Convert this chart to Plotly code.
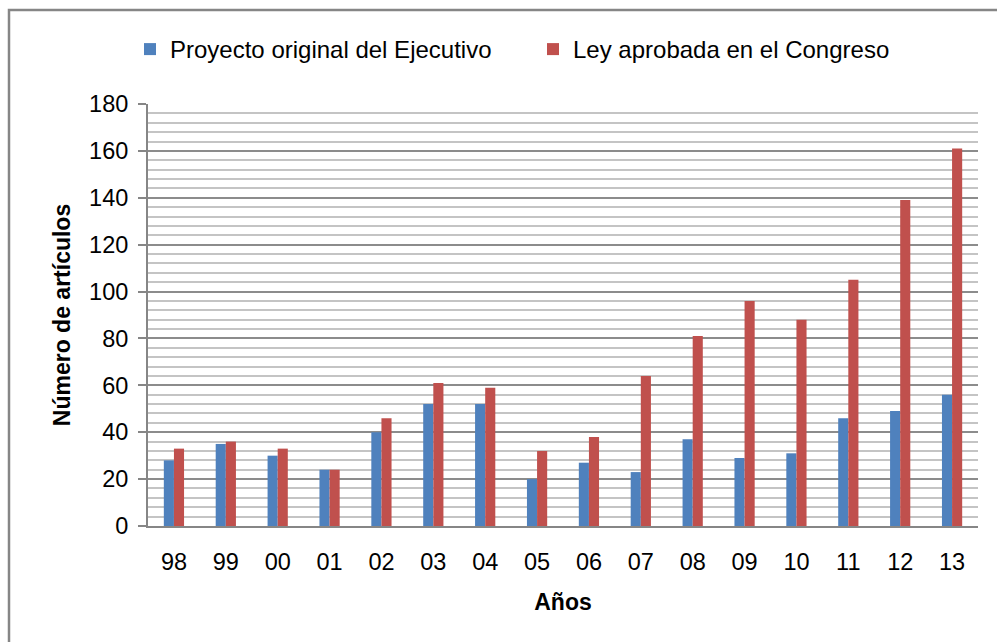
import plotly.graph_objects as go

years = ["98", "99", "00", "01", "02", "03", "04", "05", "06", "07", "08", "09", "10", "11", "12", "13"]
proyecto = [28, 35, 30, 24, 40, 52, 52, 20, 27, 23, 37, 29, 31, 46, 49, 56]
ley = [33, 36, 33, 24, 46, 61, 59, 32, 38, 64, 81, 96, 88, 105, 139, 161]
y_ticks = [0, 20, 40, 60, 80, 100, 120, 140, 160, 180]

FONT = "Liberation Sans"
W, H = 997, 642
ML, MR, MT, MB = 148, 19, 104, 116
pw, ph = W - ML - MR, H - MT - MB

fig = go.Figure()
fig.add_trace(go.Bar(x=years, y=proyecto, name="Proyecto original del Ejecutivo",
                     marker=dict(color="#4f81bd", line=dict(width=0))))
fig.add_trace(go.Bar(x=years, y=ley, name="Ley aprobada en el Congreso",
                     marker=dict(color="#c0504d", line=dict(width=0))))

fig.update_layout(
    width=W, height=H,
    margin=dict(l=ML, r=MR, t=MT, b=MB),
    paper_bgcolor="white", plot_bgcolor="white",
    barmode="group", bargap=0.61, bargroupgap=0,
    font=dict(family=FONT, size=23, color="black"),
    legend=dict(orientation="h", x=(130 - ML) / pw, xanchor="left", y=1 + (MT - 27) / ph,
                yanchor="top", font=dict(size=24, family=FONT), itemwidth=30,
                entrywidth=358, entrywidthmode="pixels",
                traceorder="normal", bgcolor="rgba(0,0,0,0)"),
    xaxis=dict(
        showline=True, linecolor="#868686", linewidth=2,
        showgrid=False, ticks="", tickfont=dict(size=23.5), ticklabelstandoff=14,
        title=dict(text="<b>Años</b>", font=dict(size=23), standoff=20),
    ),
    yaxis=dict(
        range=[0, 180], tickvals=y_ticks, showline=True, linecolor="#868686", linewidth=2,
        showgrid=True, gridcolor="#8c8c8c", gridwidth=1.5,
        ticks="outside", ticklen=8, tickcolor="#868686", tickwidth=1.5,
        tickfont=dict(size=23.5), ticklabelstandoff=5,
        minor=dict(dtick=4, showgrid=True, gridcolor="#c4c4c4", gridwidth=1.5),
        title=dict(text="<b>Número de artículos</b>", font=dict(size=23), standoff=12),
        zeroline=False,
    ),
)

fig.add_shape(type="rect", xref="paper", yref="paper",
              x0=(9 - ML) / pw, x1=(W + 10 - ML) / pw,
              y0=-(H + 10 - MT - ph) / ph, y1=1 + (MT - 10) / ph,
              line=dict(color="#868686", width=2.5), fillcolor="rgba(0,0,0,0)", layer="below")

fig.write_html("out.html", config={"displayModeBar": False},
               post_script="document.body.style.margin='0px';")
